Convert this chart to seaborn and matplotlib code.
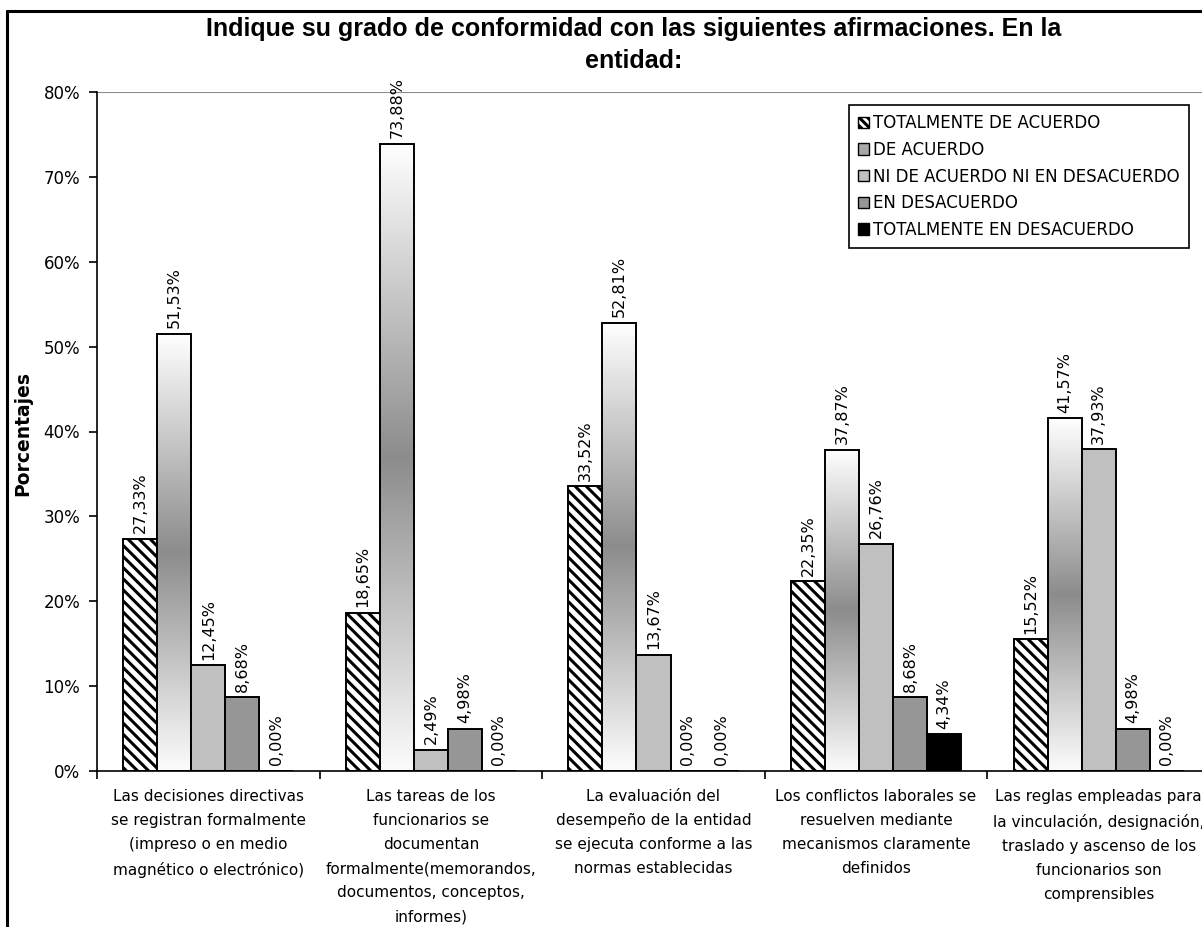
import numpy as np
import pandas as pd
import matplotlib
matplotlib.use("Agg")
import matplotlib.pyplot as plt
from matplotlib.patches import Patch
from matplotlib.colors import LinearSegmentedColormap
from matplotlib.lines import Line2D
import seaborn as sns

# --- data -------------------------------------------------------------
categories = [
    "Las decisiones directivas\nse registran formalmente\n(impreso o en medio\nmagnético o electrónico)",
    "Las tareas de los\nfuncionarios se\ndocumentan\nformalmente(memorandos,\ndocumentos, conceptos,\ninformes)",
    "La evaluación del\ndesempeño de la entidad\nse ejecuta conforme a las\nnormas establecidas",
    "Los conflictos laborales se\nresuelven mediante\nmecanismos claramente\ndefinidos",
    "Las reglas empleadas para\nla vinculación, designación,\ntraslado y ascenso de los\nfuncionarios son\ncomprensibles",
]
levels = [
    "TOTALMENTE DE ACUERDO",
    "DE ACUERDO",
    "NI DE ACUERDO NI EN DESACUERDO",
    "EN DESACUERDO",
    "TOTALMENTE EN DESACUERDO",
]
totalmente_de_acuerdo = [27.33, 18.65, 33.52, 22.35, 15.52]
de_acuerdo = [51.53, 73.88, 52.81, 37.87, 41.57]
ni_acuerdo_ni_desacuerdo = [12.45, 2.49, 13.67, 26.76, 37.93]
en_desacuerdo = [8.68, 4.98, 0.00, 8.68, 4.98]
totalmente_en_desacuerdo = [0.00, 0.00, 0.00, 4.34, 0.00]
y_ticks = [0, 10, 20, 30, 40, 50, 60, 70, 80]

series = [totalmente_de_acuerdo, de_acuerdo, ni_acuerdo_ni_desacuerdo,
          en_desacuerdo, totalmente_en_desacuerdo]
df = pd.DataFrame([
    {"cat": c, "nivel": lv, "valor": vals[i]}
    for lv, vals in zip(levels, series)
    for i, c in enumerate(categories)
])

colors = ["#ffffff", "#a8a8a8", "#c0c0c0", "#969696", "#000000"]
palette = dict(zip(levels, colors))

# --- figure -----------------------------------------------------------
sns.set_style("white")
plt.rcParams["font.family"] = ["DejaVu Sans"]
plt.rcParams["text.color"] = "black"
plt.rcParams["xtick.color"] = "black"
plt.rcParams["ytick.color"] = "black"
plt.rcParams["axes.labelcolor"] = "black"
plt.rcParams["hatch.linewidth"] = 2.2

fig = plt.figure(figsize=(12.02, 9.27), dpi=100)
W, H = 1202, 927
x0, x1, y0, y1 = 97, 1210, 92, 771
ax = fig.add_axes([x0 / W, (H - y1) / H, (x1 - x0) / W, (y1 - y0) / H])

sns.barplot(data=df, x="cat", y="valor", hue="nivel", order=categories,
            hue_order=levels, palette=palette, saturation=1, width=0.764,
            gap=0, edgecolor="black", linewidth=1.4, legend=False, ax=ax)

ax.set_xlim(-0.5, len(categories) - 0.5)
ax.set_ylim(0, 80)

# hatched first series, cylinder-like shading on the second
grad_cmap = LinearSegmentedColormap.from_list(
    "cyl", [(0, "#ffffff"), (0.5, "#8c8c8c"), (1, "#fcfcfc")])
grad = np.linspace(0, 1, 256).reshape(-1, 1)
n = len(categories)
for k, cont in enumerate(ax.containers):
    for bar in cont:
        if k == 0:
            bar.set_hatch("\\\\\\")
            bar.set_facecolor("white")
        elif k == 1:
            bx, by = bar.get_x(), bar.get_y()
            bw, bh = bar.get_width(), bar.get_height()
            bar.set_facecolor("none")
            im = ax.imshow(grad, cmap=grad_cmap, aspect="auto",
                           extent=(bx, bx + bw, by, by + bh),
                           origin="upper", zorder=bar.get_zorder() - 0.1,
                           interpolation="bilinear")
            im.set_clip_path(bar)
    # value labels
    for bar in cont:
        h = bar.get_height()
        ax.annotate(f"{h:.2f}%".replace(".", ","),
                    (bar.get_x() + bar.get_width() / 2, h),
                    xytext=(0, 4), textcoords="offset points",
                    rotation=90, ha="center", va="bottom",
                    fontsize=11.5, color="black", annotation_clip=False)
ax.set_xlim(-0.5, len(categories) - 0.5)
ax.set_ylim(0, 80)

# axes
for s in ["top", "right"]:
    ax.spines[s].set_visible(False)
for s in ["left", "bottom"]:
    ax.spines[s].set_color("black")
    ax.spines[s].set_linewidth(1.2)
ax.axhline(80, color="#8c8c8c", lw=1.5, zorder=0)

ax.set_yticks(y_ticks)
ax.set_yticklabels([f"{v}%" for v in y_ticks], fontsize=12)
ax.tick_params(axis="y", direction="out", length=6, width=1.2, color="black",
               left=True, pad=6)

ax.set_xticks(np.arange(-0.5, n, 1.0))
ax.set_xticklabels([])
ax.tick_params(axis="x", which="major", direction="out", length=6,
               width=1.2, color="black", bottom=True)
ax.set_xticks(np.arange(n), minor=True)
ax.set_xticklabels(categories, minor=True, fontsize=11, linespacing=1.75,
                   ha="center", va="top")
ax.tick_params(axis="x", which="minor", length=0, pad=13)

ax.set_xlabel("")
ax.set_ylabel("Porcentajes", fontsize=13.5, fontweight="bold")
ax.yaxis.set_label_coords((32 - x0) / (x1 - x0), (y1 - 433) / (y1 - y0))

fig.text(634 / W, 1 - 45 / H,
         "Indique su grado de conformidad con las siguientes afirmaciones. En la\nentidad:",
         ha="center", va="center", fontsize=18, fontweight="bold",
         family="Liberation Sans", linespacing=1.4)

# legend
handles = [
    Patch(facecolor="white", edgecolor="black", hatch="\\\\\\\\", lw=1),
    Patch(facecolor="#a8a8a8", edgecolor="black", lw=1),
    Patch(facecolor="#c0c0c0", edgecolor="black", lw=1),
    Patch(facecolor="#969696", edgecolor="black", lw=1),
    Patch(facecolor="#000000", edgecolor="black", lw=1),
]
leg = fig.legend(handles, levels, loc="upper left",
                 bbox_to_anchor=(849 / W, 1 - 105 / H),
                 frameon=True, fancybox=False, shadow=False,
                 fontsize=12, handlelength=0.65, handleheight=0.65,
                 handletextpad=0.25, labelspacing=0.52, borderpad=0.55,
                 borderaxespad=0)
leg.get_frame().set_edgecolor("black")
leg.get_frame().set_linewidth(1.2)
leg.get_frame().set_alpha(1)

# outer frame of the chart area
fig.add_artist(Line2D([7 / W, 7 / W], [0, 1 - 10.5 / H], color="black",
                      lw=2.2, transform=fig.transFigure))
fig.add_artist(Line2D([7 / W, 1], [1 - 10.5 / H, 1 - 10.5 / H],
                      color="black", lw=2.2, transform=fig.transFigure))

fig.savefig("out.png", dpi=100)
